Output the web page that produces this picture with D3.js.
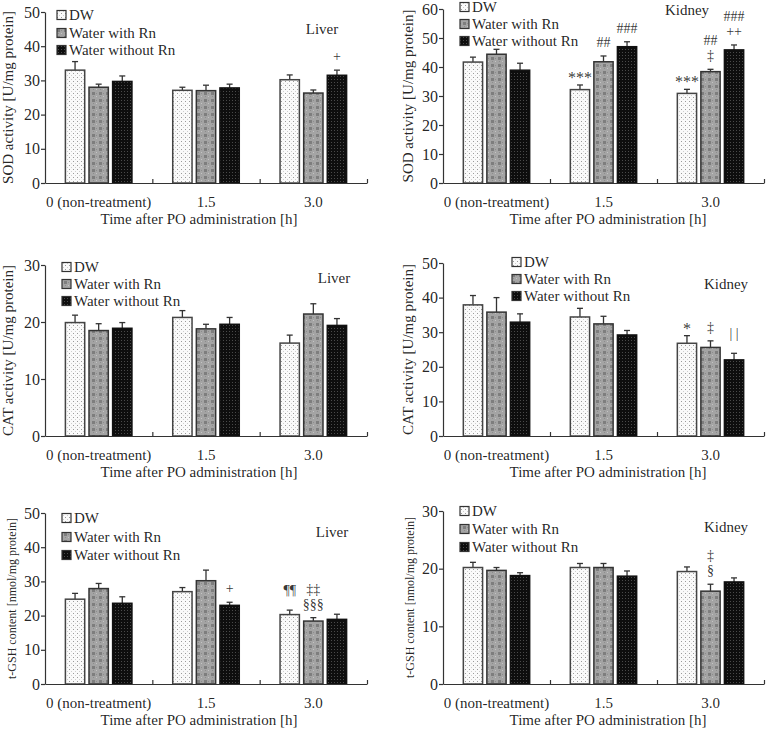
<!DOCTYPE html>
<html><head><meta charset="utf-8">
<script src="https://cdn.jsdelivr.net/npm/d3@7"></script>
<style>body{margin:0;background:#fff} svg text{fill-opacity:0.99}</style>
</head><body>
<svg id="c" width="768" height="731"></svg>
<script>
// ---------- data ----------
const groups = ["0 (non-treatment)", "1.5", "3.0"];
const seriesNames = ["DW", "Water with Rn", "Water without Rn"];
const xTitle = "Time after PO administration [h]";

// means [group][series], sd [group][series]
const sodLiverMean = [[33.0, 28.0, 29.7], [27.1, 27.0, 27.8], [30.2, 26.3, 31.5]];
const sodLiverSd   = [[2.5, 0.9, 1.6], [0.9, 1.6, 1.1], [1.4, 0.9, 1.5]];
const sodKidneyMean = [[41.7, 44.4, 38.9], [32.2, 41.8, 47.0], [30.9, 38.4, 45.9]];
const sodKidneySd   = [[1.7, 1.7, 2.4], [1.6, 2.0, 1.7], [1.4, 0.8, 1.7]];
const catLiverMean = [[19.9, 18.5, 18.9], [20.8, 18.8, 19.6], [16.3, 21.4, 19.4]];
const catLiverSd   = [[1.3, 1.2, 1.0], [1.2, 0.8, 1.2], [1.4, 1.8, 1.2]];
const catKidneyMean = [[37.9, 35.8, 32.9], [34.4, 32.4, 29.2], [26.8, 25.6, 22.0]];
const catKidneySd   = [[2.7, 4.2, 2.4], [2.5, 2.2, 1.3], [2.2, 1.9, 1.9]];
const gshLiverMean = [[24.8, 27.9, 23.6], [27.0, 30.2, 23.0], [20.3, 18.4, 18.9]];
const gshLiverSd   = [[1.7, 1.5, 1.9], [1.2, 3.1, 0.9], [1.3, 1.0, 1.5]];
const gshKidneyMean = [[20.2, 19.7, 18.8], [20.2, 20.2, 18.7], [19.5, 16.1, 17.7]];
const gshKidneySd   = [[0.9, 0.5, 0.5], [0.7, 0.7, 0.9], [0.8, 1.2, 0.7]];

const ticks50 = [0, 10, 20, 30, 40, 50];
const ticks60 = [0, 10, 20, 30, 40, 50, 60];
const ticks30 = [0, 10, 20, 30];

// significance marks: [group, series, lines bottom->top]
const sodLiverMarks = [[2, 2, ["+"]]];
const sodKidneyMarks = [[1, 0, ["***"]], [1, 1, ["##"]], [1, 2, ["###"]],
  [2, 0, ["***"]], [2, 1, ["\u2021", "##"]], [2, 2, ["++", "###"]]];
const catLiverMarks = [];
const catKidneyMarks = [[2, 0, ["*"]], [2, 1, ["\u2021"]], [2, 2, ["| |"]]];
const gshLiverMarks = [[1, 2, ["+"]], [2, 0, ["\u00b6\u00b6"]], [2, 1, ["\u00a7\u00a7\u00a7", "\u2021\u2021"]]];
const gshKidneyMarks = [[2, 1, ["\u00a7", "\u2021"]]];

// ---------- layout ----------
const FONT = "'Liberation Serif', Tinos, 'Times New Roman', Times, 'DejaVu Serif', serif";
const panels = [
  {mean: sodLiverMean, sd: sodLiverSd, marks: sodLiverMarks, ticks: ticks50, max: 50,
   x0: 45, x1: 367, y0: 183, y1: 12, ylabel: "SOD activity [U/mg protein]", ylSize: 15, ylX: 12.5,
   organ: "Liver", oX: 322, oY: 34, legX: 57, legY: [15, 33, 50], tX: 199},
  {mean: sodKidneyMean, sd: sodKidneySd, marks: sodKidneyMarks, ticks: ticks60, max: 60,
   x0: 443, x1: 764, y0: 183, y1: 9, ylabel: "SOD activity [U/mg protein]", ylSize: 15, ylX: 413,
   organ: "Kidney", oX: 687, oY: 15, legX: 460, legY: [7, 24, 41], tX: 608},
  {mean: catLiverMean, sd: catLiverSd, marks: catLiverMarks, ticks: ticks30, max: 30,
   x0: 45, x1: 367, y0: 436, y1: 265, ylabel: "CAT activity [U/mg protein]", ylSize: 15, ylX: 12.5,
   organ: "Liver", oX: 334, oY: 283, legX: 62, legY: [267, 284, 301], tX: 199},
  {mean: catKidneyMean, sd: catKidneySd, marks: catKidneyMarks, ticks: ticks50, max: 50,
   x0: 443, x1: 764, y0: 436, y1: 263, ylabel: "CAT activity [U/mg protein]", ylSize: 15, ylX: 413,
   organ: "Kidney", oX: 726, oY: 289, legX: 512, legY: [262, 279, 296], tX: 608},
  {mean: gshLiverMean, sd: gshLiverSd, marks: gshLiverMarks, ticks: ticks50, max: 50,
   x0: 45, x1: 367, y0: 684, y1: 513, ylabel: "t-GSH content [nmol/mg protein]", ylSize: 12, ylX: 16,
   organ: "Liver", oX: 332, oY: 537, legX: 62, legY: [518, 537, 555], tX: 199},
  {mean: gshKidneyMean, sd: gshKidneySd, marks: gshKidneyMarks, ticks: ticks30, max: 30,
   x0: 443, x1: 764, y0: 684, y1: 511, ylabel: "t-GSH content [nmol/mg protein]", ylSize: 12, ylX: 414,
   organ: "Kidney", oX: 726, oY: 532, legX: 460, legY: [511, 529, 547], tX: 608}
];

const svg = d3.select("#c").attr("font-family", FONT);
const defs = svg.append("defs");

// patterns
const pDW = defs.append("pattern").attr("id", "patDW").attr("patternUnits", "userSpaceOnUse").attr("width", 4).attr("height", 4);
pDW.append("rect").attr("width", 4).attr("height", 4).attr("fill", "#fafafa");
pDW.append("rect").attr("x", 1).attr("y", 1).attr("width", 1).attr("height", 1).attr("fill", "#9a9a9a");
pDW.append("rect").attr("x", 3).attr("y", 3).attr("width", 1).attr("height", 1).attr("fill", "#cfcfcf");

const pRn = defs.append("pattern").attr("id", "patRn").attr("patternUnits", "userSpaceOnUse").attr("width", 7).attr("height", 7);
pRn.append("rect").attr("width", 7).attr("height", 7).attr("fill", "#a4a4a4");
pRn.append("rect").attr("x", 1).attr("y", 1).attr("width", 3).attr("height", 3).attr("fill", "#7e7e7e");
pRn.append("rect").attr("x", 5).attr("y", 5).attr("width", 1).attr("height", 1).attr("fill", "#c4c4c4");
pRn.append("rect").attr("x", 5).attr("y", 2).attr("width", 1).attr("height", 1).attr("fill", "#8c8c8c");
pRn.append("rect").attr("x", 2).attr("y", 5).attr("width", 1).attr("height", 1).attr("fill", "#8c8c8c");

const pWo = defs.append("pattern").attr("id", "patWo").attr("patternUnits", "userSpaceOnUse").attr("width", 3).attr("height", 3);
pWo.append("rect").attr("width", 3).attr("height", 3).attr("fill", "#0e0e0e");
pWo.append("rect").attr("x", 1).attr("y", 1).attr("width", 1).attr("height", 1).attr("fill", "#4a4a4a");

const fills = ["url(#patDW)", "url(#patRn)", "url(#patWo)"];
const strokes = ["#444", "#333", "#111"];

function txt(sel) { return sel.attr("font-family", FONT).attr("fill", "#222"); }

panels.forEach(p => {
  const g = svg.append("g");
  const x = d3.scaleBand().domain(groups).range([p.x0, p.x1]).paddingInner(0).paddingOuter(0);
  const y = d3.scaleLinear().domain([0, p.max]).range([p.y0, p.y1]);
  const bw = x.bandwidth();
  const step = bw * 0.22, barW = bw * 0.18;
  const cx = (gi, si) => x(groups[gi]) + bw / 2 + (si - 1) * step;

  const rows = [];
  p.mean.forEach((row, gi) => row.forEach((v, si) => rows.push({gi, si, v, sd: p.sd[gi][si]})));

  g.selectAll(".err").data(rows).enter().append("line")
    .attr("x1", d => cx(d.gi, d.si)).attr("x2", d => cx(d.gi, d.si))
    .attr("y1", d => y(d.v)).attr("y2", d => y(d.v + d.sd))
    .attr("stroke", "#333").attr("stroke-width", 1.3);
  g.selectAll(".cap").data(rows).enter().append("line")
    .attr("x1", d => cx(d.gi, d.si) - 3).attr("x2", d => cx(d.gi, d.si) + 3)
    .attr("y1", d => y(d.v + d.sd)).attr("y2", d => y(d.v + d.sd))
    .attr("stroke", "#333").attr("stroke-width", 1.3);

  g.selectAll(".bar").data(rows).enter().append("rect")
    .attr("x", d => cx(d.gi, d.si) - barW / 2)
    .attr("y", d => y(d.v))
    .attr("width", barW)
    .attr("height", d => y(0) - y(d.v))
    .attr("fill", d => fills[d.si])
    .attr("stroke", d => strokes[d.si]).attr("stroke-width", 1.5);

  // y axis
  const ya = g.append("g").attr("transform", `translate(${p.x0},0)`)
    .call(d3.axisLeft(y).tickValues(p.ticks).tickSize(4).tickSizeOuter(0).tickPadding(1).tickFormat(d3.format("d")));
  ya.attr("font-family", FONT);
  ya.select(".domain").attr("stroke", "#333").attr("stroke-width", 1.2);
  ya.selectAll(".tick line").attr("stroke", "#333").attr("stroke-width", 1.2);
  txt(ya.selectAll(".tick text")).attr("font-size", 16);

  // x axis line with inward boundary ticks
  const xb = d3.scaleLinear().domain([0, groups.length]).range([p.x0, p.x1]);
  const xa = g.append("g").attr("transform", `translate(0,${p.y0})`)
    .call(d3.axisTop(xb).tickValues([1, 2, 3]).tickSize(4).tickSizeOuter(0).tickFormat(""));
  xa.select(".domain").attr("stroke", "#333").attr("stroke-width", 1.2);
  xa.selectAll(".tick line").attr("stroke", "#333").attr("stroke-width", 1.2);

  // category labels
  txt(g.selectAll(".cat").data(groups).enter().append("text"))
    .attr("x", d => x(d) + bw / 2).attr("y", p.y0 + 24)
    .attr("text-anchor", "middle").attr("font-size", 15).text(d => d);
  txt(g.append("text")).attr("x", p.tX).attr("y", p.y0 + 41)
    .attr("text-anchor", "middle").attr("font-size", 15).text(xTitle);

  // y label
  txt(g.append("text")).attr("transform", `translate(${p.ylX},${(p.y0 + p.y1) / 2}) rotate(-90)`)
    .attr("text-anchor", "middle").attr("font-size", p.ylSize).text(p.ylabel);

  // organ label
  txt(g.append("text")).attr("x", p.oX).attr("y", p.oY).attr("text-anchor", "middle")
    .attr("font-size", 15).text(p.organ);

  // legend
  seriesNames.forEach((s, i) => {
    g.append("rect").attr("x", p.legX).attr("y", p.legY[i] - 4.5).attr("width", 9).attr("height", 9)
      .attr("fill", fills[i]).attr("stroke", "#333").attr("stroke-width", 1.2);
    txt(g.append("text")).attr("x", p.legX + 12).attr("y", p.legY[i] + 5)
      .attr("font-size", 15).text(s);
  });

  // significance marks
  p.marks.forEach(([gi, si, lines]) => {
    const top = y(p.mean[gi][si] + p.sd[gi][si]);
    lines.forEach((t, li) => {
      const extra = (t === "| |" || t.startsWith("\u00b6")) ? 6 : 0;
      const size = t.includes("*") ? 16 : 14;
      txt(g.append("text")).attr("x", cx(gi, si)).attr("y", top - (t.includes("*") ? 2 : 9) - extra - li * 15)
        .attr("text-anchor", "middle").attr("font-size", size).attr("fill", "#333").text(t);
    });
  });
});
</script>
</body></html>
